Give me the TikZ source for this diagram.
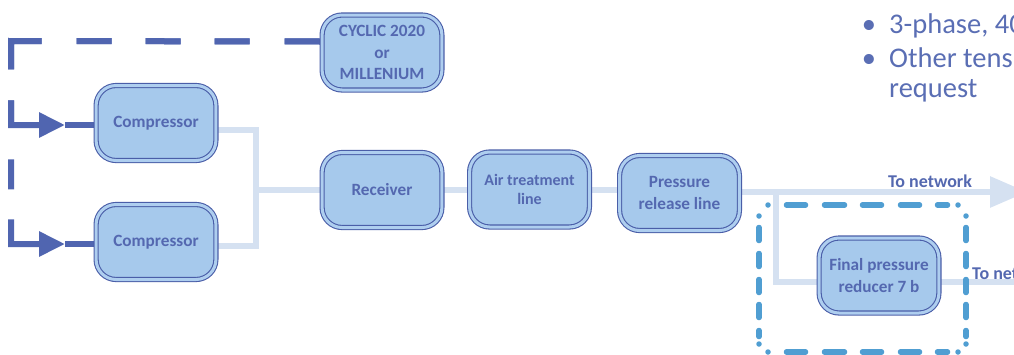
\documentclass[tikz,border=0pt]{standalone}
\usepackage{fontspec}
\setmainfont{Carlito}
\usetikzlibrary{arrows.meta}
\definecolor{boxfill}{RGB}{166,201,236}
\definecolor{boxgap}{RGB}{174,206,239}
\definecolor{boxline}{RGB}{74,94,168}
\definecolor{boxtext}{RGB}{84,104,176}
\definecolor{darkln}{RGB}{80,101,176}
\definecolor{lightln}{RGB}{213,225,241}
\definecolor{midln}{RGB}{80,158,210}
\definecolor{bultext}{RGB}{90,110,180}
\pgfdeclarelayer{bg}
\pgfsetlayers{bg,main}
\begin{document}
\begin{tikzpicture}[x=1pt,y=-1pt,
  unit/.style={draw=boxline, line width=1.1pt, double=boxgap, double distance=3pt,
    fill=boxfill, rounded corners=20pt, minimum width=119.8pt, minimum height=75pt,
    inner sep=0pt, align=center, text=boxtext, font=\bfseries\fontsize{17.2}{21.5}\selectfont},
  lightline/.style={draw=lightln, line width=6pt},
  darkline/.style={draw=darkln, line width=6pt},
  frameline/.style={draw=midln, line width=5.5pt, line cap=round},
  framedot/.style={fill=midln},
  lbl/.style={text=boxtext, font=\bfseries\fontsize{18}{22}\selectfont, inner sep=0pt},
  bul/.style={text=bultext, font=\fontsize{28.5}{34}\selectfont, inner sep=0pt}
]
\useasboundingbox (0,0) rectangle (1014,354);

% boxes
\node[unit] (cyc) at (382,52.5) {CYCLIC 2020\\or\\MILLENIUM};
\node[unit] (c1) at (156,123) {Compressor};
\node[unit] (c2) at (156,242) {Compressor};
\node[unit] (recv) at (382,190) {Receiver};
\node[unit, font=\bfseries\fontsize{16}{19}\selectfont] (air) at (529.5,189.5) {Air treatment\\line};
\node[unit] (prl) at (679.5,193) {Pressure\\release line};
\node[unit] (red) at (879,275.5) {Final pressure\\reducer 7 b};

% free ends and junctions
\coordinate (k) at (11,41);
\coordinate (a1) at (65,125);
\coordinate (a2) at (65,244);
\coordinate (j1) at (256,190);
\coordinate (j2) at (775.5,192);
\coordinate (out1) at (1027,192);
\coordinate (out2) at (1020,281.5);

\begin{pgfonlayer}{bg}
  % control lines
  \draw[darkline, dash pattern=on 37pt off 35pt on 35pt off 34pt on 35pt off 34pt on 35pt off 35pt on 59pt off 31pt on 26pt off 33pt on 30pt off 30pt on 60pt,
        -{Triangle[length=26pt,width=24pt]}]
    ([yshift=11pt]cyc.west) -- (k) |- (a2);
  \draw[darkline, dash pattern=on 37pt off 35pt on 35pt off 34pt on 35pt off 34pt on 35pt off 35pt on 59pt off 31pt on 60pt off 10pt,
        -{Triangle[length=26pt,width=24pt]}]
    ([yshift=11pt]cyc.west) -- (k) |- (a1);
  \draw[darkline] (a1) -- (a1 -| c1.west);
  \draw[darkline] (a2) -- (a2 -| c2.west);
  % air lines
  \draw[lightline] ([yshift=-7pt]c1.east) -| (j1) -- (recv.west);
  \draw[lightline] ([yshift=-4pt]c2.east) -| (j1);
  \draw[lightline] (recv.east) -- (recv.east -| air.west);
  \draw[lightline] (air.east) -- (air.east -| prl.west);
  \draw[lightline, -{Triangle[length=37pt,width=30pt]}] (prl.east |- j2) -- (out1);
  \draw[lightline] (j2) |- ([yshift=-6pt]red.west);
  \draw[lightline] ([yshift=-6pt]red.east) -- (out2);
\end{pgfonlayer}

% dashed frame around the final reducer
\draw[frameline, dash pattern=on 19pt off 19pt on 20pt off 18pt on 19pt off 19pt on 19pt off 18pt on 10pt off 40pt] (786.5,205) -- (947.5,205);
\draw[frameline, dash pattern=on 19pt off 19pt on 20pt off 18pt on 19pt off 19pt on 19pt off 18pt on 10pt off 40pt] (786.5,352) -- (947.5,352);
\draw[frameline, dash pattern=on 13pt off 13pt on 13pt off 13pt on 13pt off 12pt on 13pt off 13pt on 6pt off 40pt] (759,227.5) -- (759,336.5);
\draw[frameline, dash pattern=on 13pt off 13pt on 13pt off 13pt on 13pt off 12pt on 13pt off 13pt on 6pt off 40pt] (966,227.5) -- (966,336.5);
\foreach \p in {(768,205),(958,205),(768,352),(958,352),(759,216),(759,344),(966,216),(966,344)}
  \fill[framedot] \p circle (2.75pt);

% labels
\node[lbl, anchor=base] (t1) at (930,187) {To network};
\node[lbl, anchor=base west] (t2) at (972,279) {To network};

% bullet text
\node[bul, anchor=base] (bd1) at (869,33) {•};
\node[bul, anchor=base west] (bt1) at (889,33) {3-phase, 400 V};
\node[bul, anchor=base] (bd2) at (869,67) {•};
\node[bul, anchor=base west] (bt2) at (889,67) {Other tensions on};
\node[bul, anchor=base west] (bt3) at (889,97) {request};
\end{tikzpicture}
\end{document}
